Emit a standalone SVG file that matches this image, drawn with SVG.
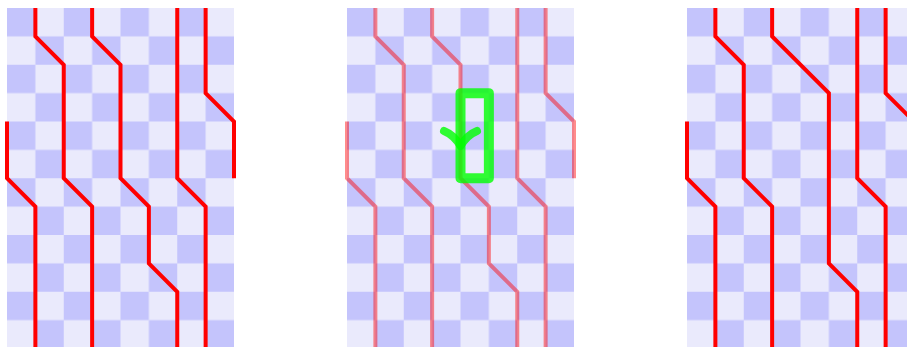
<svg xmlns="http://www.w3.org/2000/svg" width="907" height="347" viewBox="0 0 907 347">
<style>
  .board { fill: url(#checker); }
  .wire { fill: none; stroke: #ff0000; stroke-width: 4; stroke-linejoin: miter; stroke-linecap: butt; }
  .faded .wire { stroke-opacity: 0.45; }
  .hl { fill: none; stroke: #00ff00; stroke-opacity: 0.8; stroke-width: 10; stroke-linejoin: round; }
  .arrow { fill: none; stroke: #00ff00; stroke-opacity: 0.8; stroke-width: 8; stroke-linecap: round; stroke-linejoin: round; }
</style>
<defs>
  <pattern id="checker" patternUnits="userSpaceOnUse" x="0" y="0" width="56.75" height="56.75">
    <rect x="0" y="0" width="56.75" height="56.75" fill="#eaeafc"/>
    <rect x="0" y="0" width="28.375" height="28.375" fill="#c4c4fc"/>
    <rect x="28.375" y="28.375" width="28.375" height="28.375" fill="#c4c4fc"/>
  </pattern>
</defs>

<g id="panel1" transform="translate(7,8)">
  <rect class="board" x="0" y="0" width="227" height="340.5"/>
  <g id="panel1-wires">
    <path class="wire" d="M28.375,0 V28.375 L56.75,56.75 V170.25 L85.125,198.625 V340.5"/>
    <path class="wire" d="M85.125,0 V28.375 L113.5,56.75 V170.25 L141.875,198.625 V255.375 L170.25,283.75 V340.5"/>
    <path class="wire" d="M170.25,0 V170.25 L198.625,198.625 V340.5"/>
    <path class="wire" d="M198.625,0 V85.125 L227,113.5 V170.25"/>
    <path class="wire" d="M0,113.5 V170.25 L28.375,198.625 V340.5"/>
  </g>
</g>

<g id="panel2" class="faded" transform="translate(347,8)">
  <rect class="board" x="0" y="0" width="227" height="340.5"/>
  <g id="panel2-wires">
    <path class="wire" d="M28.375,0 V28.375 L56.75,56.75 V170.25 L85.125,198.625 V340.5"/>
    <path class="wire" d="M85.125,0 V28.375 L113.5,56.75 V170.25 L141.875,198.625 V255.375 L170.25,283.75 V340.5"/>
    <path class="wire" d="M170.25,0 V170.25 L198.625,198.625 V340.5"/>
    <path class="wire" d="M198.625,0 V85.125 L227,113.5 V170.25"/>
    <path class="wire" d="M0,113.5 V170.25 L28.375,198.625 V340.5"/>
  </g>
  <g id="highlight">
    <rect class="hl" x="113.5" y="85.125" width="28.375" height="85.125"/>
    <path class="arrow" d="M97,123 Q107,127 113.5,138 Q120,127 130,123"/>
  </g>
</g>

<g id="panel3" transform="translate(687,8)">
  <rect class="board" x="0" y="0" width="227" height="340.5"/>
  <g id="panel3-wires">
    <path class="wire" d="M28.375,0 V28.375 L56.75,56.75 V170.25 L85.125,198.625 V340.5"/>
    <path class="wire" d="M85.125,0 V28.375 L141.875,85.125 V255.375 L170.25,283.75 V340.5"/>
    <path class="wire" d="M170.25,0 V170.25 L198.625,198.625 V340.5"/>
    <path class="wire" d="M198.625,0 V85.125 L227,113.5 V170.25"/>
    <path class="wire" d="M0,113.5 V170.25 L28.375,198.625 V340.5"/>
  </g>
</g>
</svg>
